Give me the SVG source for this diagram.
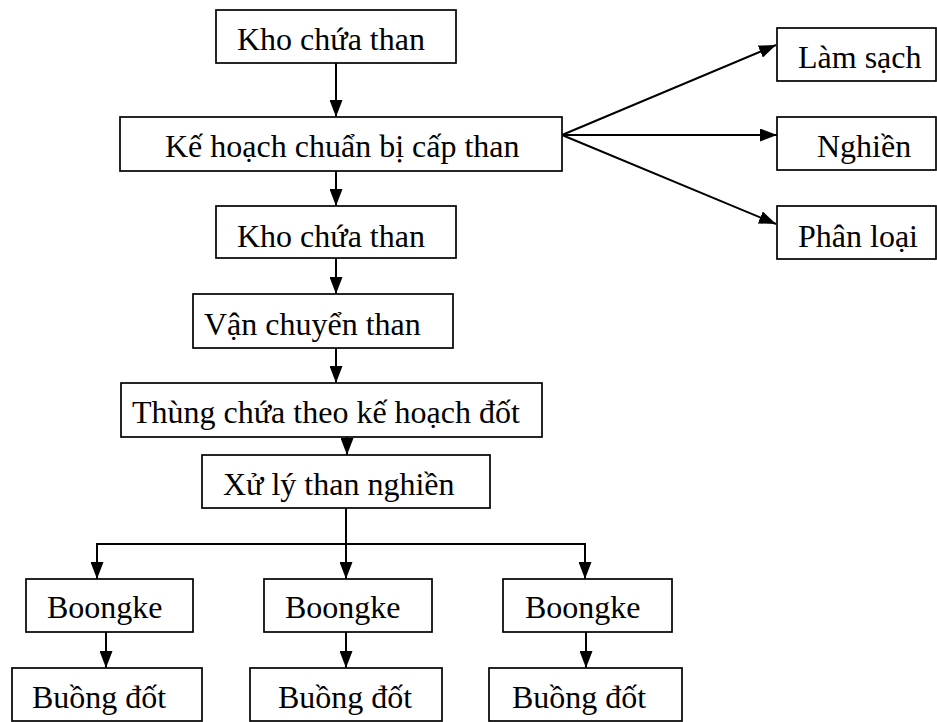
<svg xmlns="http://www.w3.org/2000/svg" width="937" height="722" viewBox="0 0 937 722">
<style>
.box{fill:#fff;stroke:#000;stroke-width:1.7}
.lbl{font-family:"Liberation Serif","Times New Roman",serif;font-size:32px;fill:#000}
.con{fill:none;stroke:#000;stroke-width:2}
.arr{marker-end:url(#ah)}
</style>
<defs>
<marker id="ah" markerUnits="userSpaceOnUse" markerWidth="17" markerHeight="13" refX="17" refY="6.5" orient="auto">
<path d="M0,0 L17,6.5 L0,13 z" fill="#000"/>
</marker>
</defs>
<rect width="937" height="722" fill="#fff"/>
<g id="connectors">
<line class="con arr" x1="336" y1="63" x2="336" y2="117"/>
<line class="con arr" x1="336" y1="171" x2="336" y2="206"/>
<line class="con arr" x1="336" y1="258" x2="336" y2="294"/>
<line class="con arr" x1="336" y1="348" x2="336" y2="383"/>
<line class="con arr" x1="347" y1="437" x2="347" y2="455"/>
<line class="con arr" x1="562" y1="135" x2="776" y2="45"/>
<line class="con arr" x1="562" y1="135" x2="777" y2="135"/>
<line class="con arr" x1="562" y1="135" x2="776" y2="224"/>
<line class="con" x1="346" y1="508" x2="346" y2="544"/>
<polyline class="con" points="97,579 97,544 585,544 585,579" marker-end="url(#ah)"/>
<line class="con arr" x1="97" y1="544" x2="97" y2="579"/>
<line class="con arr" x1="346" y1="544" x2="346" y2="579"/>
<line class="con arr" x1="106" y1="632" x2="106" y2="668"/>
<line class="con arr" x1="346" y1="632" x2="346" y2="668"/>
<line class="con arr" x1="586" y1="632" x2="586" y2="668"/>
</g>
<g id="kho1"><rect class="box" x="216" y="10" width="240" height="53"/><text class="lbl" x="237" y="50">Kho chứa than</text></g>
<g id="kehoach"><rect class="box" x="120" y="117" width="442" height="54"/><text class="lbl" x="165" y="157">Kế hoạch chuẩn bị cấp than</text></g>
<g id="lamsach"><rect class="box" x="777" y="28" width="159" height="53"/><text class="lbl" x="798" y="68">Làm sạch</text></g>
<g id="nghien"><rect class="box" x="777" y="117" width="159" height="53"/><text class="lbl" x="817" y="157">Nghiền</text></g>
<g id="phanloai"><rect class="box" x="777" y="206" width="159" height="53"/><text class="lbl" x="798" y="247">Phân loại</text></g>
<g id="kho2"><rect class="box" x="216" y="206" width="240" height="52"/><text class="lbl" x="237" y="247">Kho chứa than</text></g>
<g id="vanchuyen"><rect class="box" x="193" y="294" width="260" height="54"/><text class="lbl" x="204" y="335">Vận chuyển than</text></g>
<g id="thung"><rect class="box" x="121" y="383" width="421" height="54"/><text class="lbl" x="132" y="423">Thùng chứa theo kế hoạch đốt</text></g>
<g id="xuly"><rect class="box" x="202" y="455" width="288" height="53"/><text class="lbl" x="223" y="495">Xử lý than nghiền</text></g>
<g id="boongke1"><rect class="box" x="26" y="579" width="167" height="53"/><text class="lbl" x="47" y="618">Boongke</text></g>
<g id="boongke2"><rect class="box" x="264" y="579" width="168" height="53"/><text class="lbl" x="285" y="618">Boongke</text></g>
<g id="boongke3"><rect class="box" x="503" y="579" width="169" height="53"/><text class="lbl" x="525" y="618">Boongke</text></g>
<g id="buong1"><rect class="box" x="12" y="668" width="190" height="53"/><text class="lbl" x="32" y="708">Buồng đốt</text></g>
<g id="buong2"><rect class="box" x="250" y="668" width="192" height="53"/><text class="lbl" x="278" y="708">Buồng đốt</text></g>
<g id="buong3"><rect class="box" x="489" y="668" width="193" height="53"/><text class="lbl" x="512" y="708">Buồng đốt</text></g>
</svg>
